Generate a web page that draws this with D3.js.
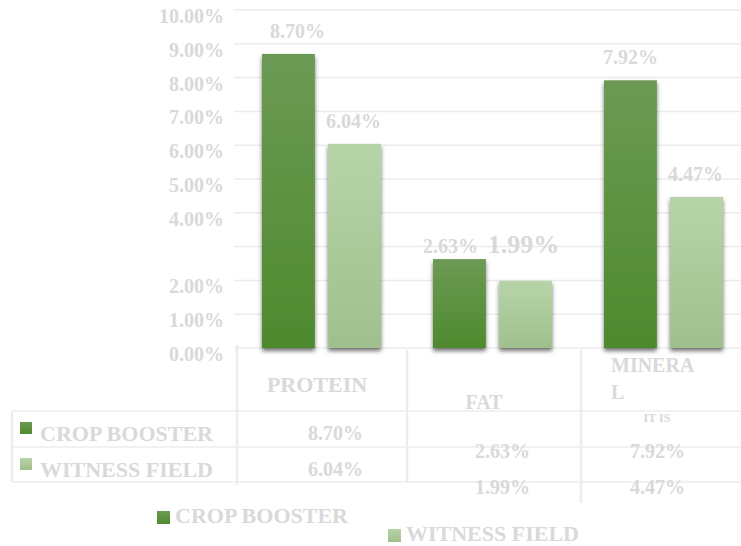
<!DOCTYPE html>
<html>
<head>
<meta charset="utf-8">
<script src="https://cdn.jsdelivr.net/npm/d3@7"></script>
<style>
  body { margin: 0; background: #fff; }
  svg text { font-family: "Liberation Serif", "Times New Roman", serif; font-weight: bold; fill: #d9d9d9; }
</style>
</head>
<body>
<svg id="chart" width="741" height="546"></svg>
<script>
// data
var categories = ["PROTEIN", "FAT", "MINERAL"];
var categoryLines = [["PROTEIN"], ["FAT"], ["MINERA", "L"]];
var seriesNames = ["CROP BOOSTER", "WITNESS FIELD"];
var cropBooster = [8.70, 2.63, 7.92];
var witnessField = [6.04, 1.99, 4.47];
var yTicks = [0, 1, 2, 3, 4, 5, 6, 7, 8, 9, 10];
var yTickLabels = ["0.00%", "1.00%", "2.00%", "", "4.00%", "5.00%", "6.00%", "7.00%", "8.00%", "9.00%", "10.00%"];

var series = [cropBooster, witnessField];
var fmt = function(v) { return d3.format(".2f")(v) + "%"; };

var svg = d3.select("#chart");
var defs = svg.append("defs");

function grad(id, top, bottom) {
  var g = defs.append("linearGradient").attr("id", id)
    .attr("x1", 0).attr("y1", 0).attr("x2", 0).attr("y2", 1);
  g.append("stop").attr("offset", "0%").attr("stop-color", top);
  g.append("stop").attr("offset", "100%").attr("stop-color", bottom);
}
grad("g0", "#6c9a54", "#4e8a2d");
grad("g1", "#b7d4a8", "#9fc08c");

var f = defs.append("filter").attr("id", "shadow")
  .attr("x", "-20%").attr("y", "-10%").attr("width", "140%").attr("height", "125%");
f.append("feDropShadow").attr("dx", 0).attr("dy", 3).attr("stdDeviation", 2)
  .attr("flood-color", "#000").attr("flood-opacity", 0.55);

var y = d3.scaleLinear().domain([0, 10]).range([348, 10]);
var x = d3.scaleBand().domain(categories).range([236, 749]).paddingInner(0).paddingOuter(0);
var xs = d3.scaleBand().domain([0, 1]).range([26, x.bandwidth() - 26]).paddingInner(0.2);

// grid lines
svg.append("g").selectAll("line").data(yTicks).enter().append("line")
  .attr("x1", 234).attr("x2", 741)
  .attr("y1", function(d) { return y(d); }).attr("y2", function(d) { return y(d); })
  .attr("stroke", "#ececec").attr("stroke-width", 1.5);

// y labels
svg.append("g").selectAll("text").data(yTicks).enter().append("text")
  .attr("x", 224).attr("y", function(d) { return y(d) + 13; })
  .attr("text-anchor", "end").style("font-size", "20px")
  .text(function(d, i) { return yTickLabels[i]; });

// bars
var groups = svg.append("g").selectAll("g").data(categories).enter().append("g")
  .attr("transform", function(d) { return "translate(" + x(d) + ",0)"; });

groups.selectAll("rect").data(function(d, ci) { return series.map(function(s, si) { return { si: si, v: s[ci] }; }); })
  .enter().append("rect")
  .attr("x", function(d) { return xs(d.si); })
  .attr("width", xs.bandwidth())
  .attr("y", function(d) { return y(d.v); })
  .attr("height", function(d) { return y(0) - y(d.v); })
  .attr("fill", function(d) { return "url(#g" + d.si + ")"; })
  .attr("filter", "url(#shadow)");

// data labels
var labelDx = [[9, -1], [-9, -2], [0, -1]];
var labelSize = [[20, 20], [20, 26], [20, 20]];
groups.each(function(cat, ci) {
  d3.select(this).selectAll("text.val").data(series.map(function(s) { return s[ci]; }))
    .enter().append("text").attr("class", "val")
    .attr("text-anchor", "middle")
    .attr("x", function(d, si) { return xs(si) + xs.bandwidth() / 2 + labelDx[ci][si]; })
    .attr("y", function(d, si) { return ci === 1 ? y(cropBooster[1]) - 6 : y(d) - 16; })
    .style("font-size", function(d, si) { return labelSize[ci][si] + "px"; })
    .text(function(d) { return fmt(d); });
});

// table lines
var lines = [
  [12, 411, 741, 411], [12, 447, 741, 447], [12, 482, 741, 482],
  [12, 411, 12, 482], [237, 345, 237, 485], [407, 350, 407, 482], [581, 350, 581, 503]
];
svg.append("g").selectAll("line").data(lines).enter().append("line")
  .attr("x1", function(d) { return d[0]; }).attr("y1", function(d) { return d[1]; })
  .attr("x2", function(d) { return d[2]; }).attr("y2", function(d) { return d[3]; })
  .attr("stroke", "#ececec").attr("stroke-width", function(d) { return d[0] === d[2] ? 2.5 : 1.5; });

// category labels
var catPos = [[317, 392, "middle", 22], [484, 409, "middle", 20], [611, 372, "start", 20]];
categoryLines.forEach(function(ls, ci) {
  var t = svg.append("text").attr("x", catPos[ci][0]).attr("y", catPos[ci][1])
    .attr("text-anchor", catPos[ci][2]).style("font-size", catPos[ci][3] + "px");
  ls.forEach(function(l, li) {
    t.append("tspan").attr("x", catPos[ci][0]).attr("dy", li === 0 ? 0 : 27).text(l);
  });
});
svg.append("text").attr("x", 657).attr("y", 422).attr("text-anchor", "middle")
  .style("font-size", "12px").text("IT IS");

// table rows
var rowY = [441, 477];
var colDx = [14, 10, -6];
var colDy = [0, 18, 18];
seriesNames.forEach(function(name, si) {
  svg.append("rect").attr("x", 20).attr("y", rowY[si] - 19).attr("width", 12).attr("height", 12)
    .attr("fill", "url(#g" + si + ")");
  svg.append("text").attr("x", 40).attr("y", rowY[si]).style("font-size", "22px").text(name);
  categories.forEach(function(c, ci) {
    svg.append("text").attr("x", x(c) + x.bandwidth() / 2 + colDx[ci]).attr("y", rowY[si] + colDy[ci] - 1)
      .attr("text-anchor", "middle").style("font-size", "20px").text(fmt(series[si][ci]));
  });
});

// bottom legend
var legPos = [[157, 523], [388, 541]];
seriesNames.forEach(function(name, si) {
  svg.append("rect").attr("x", legPos[si][0]).attr("y", legPos[si][1] - 12).attr("width", 13).attr("height", 13)
    .attr("fill", "url(#g" + si + ")");
  svg.append("text").attr("x", legPos[si][0] + 18).attr("y", legPos[si][1]).style("font-size", "22px").text(name);
});
</script>
</body>
</html>
